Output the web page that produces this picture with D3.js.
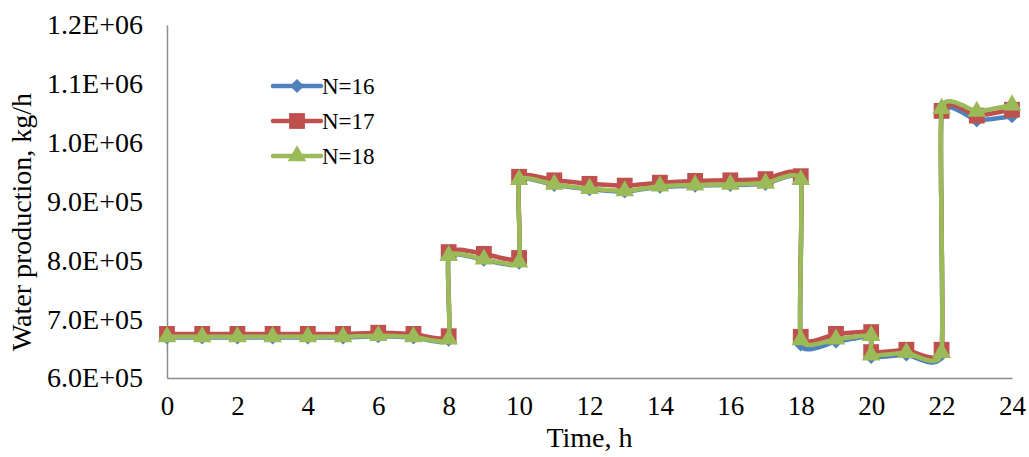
<!DOCTYPE html>
<html>
<head>
<meta charset="utf-8">
<script src="https://cdn.jsdelivr.net/npm/d3@7"></script>
<style>
  body { margin: 0; background: #fff; }
  svg { display: block; }
  text { font-family: "Liberation Serif", "Times New Roman", serif; fill: #000; }
</style>
</head>
<body>
<svg id="chart" width="1029" height="457"></svg>
<script>
// ---- data ----
const hours = [0,1,2,3,4,5,6,7,8,8,9,10,10,11,12,13,14,15,16,17,18,18,19,20,20,21,22,22,23,24];
const n16 = [669000,669000,669000,669000,669000,669000,671000,669000,665000,
             807000,801000,796000,
             936000,928000,921000,917000,925000,927000,928000,930000,936000,
             657000,662000,670000,
             636000,640000,640000,
             1050000,1038000,1045000];
const n17 = [675000,675000,675000,675000,675000,675000,677000,675000,671000,
             814000,811000,804000,
             942000,936000,930000,927000,932000,935000,936000,938000,943000,
             670000,675000,678000,
             644000,648000,648000,
             1054000,1046000,1056000];
const n18 = [670000,670000,670000,670000,670000,670000,672000,670000,666000,
             808000,802000,797000,
             937000,929000,922000,918000,926000,928000,929000,931000,937000,
             665000,666000,672000,
             639000,643000,643000,
             1058000,1053000,1064000];
const seriesNames = ["N=16","N=17","N=18"];
const xTicks = [0,2,4,6,8,10,12,14,16,18,20,22,24];
const yTicks = [600000,700000,800000,900000,1000000,1100000,1200000];
const yTickLabels = ["6.0E+05","7.0E+05","8.0E+05","9.0E+05","1.0E+06","1.1E+06","1.2E+06"];

// ---- layout ----
const W = 1029, H = 457;
const m = {left: 167, top: 25, right: 17, bottom: 79};
const svg = d3.select("#chart");
const x = d3.scaleLinear().domain([0,24]).range([m.left, W - m.right]);
const y = d3.scaleLinear().domain([600000,1200000]).range([H - m.bottom, m.top]);

const colors = ["#4F81BD","#C0504D","#9BBB59"];
const symbols = [
  {type: d3.symbolSquare, size: 100, rotate: 45},
  {type: d3.symbolSquare, size: 250, rotate: 0},
  {type: d3.symbolTriangle, size: 150, rotate: 0}
];

// axes
const yAxis = d3.axisLeft(y).tickValues(yTicks).tickSize(0).tickPadding(24)
  .tickFormat((d,i) => yTickLabels[i]);
const gy = svg.append("g").attr("transform", `translate(${m.left},0)`).call(yAxis);
gy.select(".domain").attr("stroke", "#8c8c8c").attr("stroke-width", 1.5);
gy.selectAll("text").attr("font-size", 28).style("font-family", '"Liberation Serif", serif');

const xAxis = d3.axisBottom(x).tickValues(xTicks).tickSize(0).tickPadding(18)
  .tickFormat(d3.format("d"));
const gx = svg.append("g").attr("transform", `translate(0,${H - m.bottom})`).call(xAxis);
gx.select(".domain").attr("stroke", "#8c8c8c").attr("stroke-width", 1.5);
gx.selectAll("text").attr("font-size", 27).style("font-family", '"Liberation Serif", serif');

// axis titles
svg.append("text").attr("x", (m.left + W - m.right) / 2).attr("y", 447)
  .attr("text-anchor", "middle").attr("font-size", 28).text("Time, h");
svg.append("text").attr("transform", "translate(31,222) rotate(-90)")
  .attr("text-anchor", "middle").attr("font-size", 28).text("Water production, kg/h");

// series
const data = [n16, n17, n18];
const line = d3.line().x(d => x(d[0])).y(d => y(d[1])).curve(d3.curveCardinal.tension(0.55));

data.forEach((vals, si) => {
  const pts = hours.map((h, i) => [h, vals[i]]);
  const g = svg.append("g");
  g.append("path").datum(pts).attr("d", line)
    .attr("fill", "none").attr("stroke", colors[si]).attr("stroke-width", 4.5)
    .attr("stroke-linejoin", "round");
  const sym = d3.symbol().type(symbols[si].type).size(symbols[si].size);
  g.selectAll("path.mk").data(pts).enter().append("path").attr("class", "mk")
    .attr("d", sym)
    .attr("transform", d => `translate(${x(d[0])},${y(d[1])}) rotate(${symbols[si].rotate})`)
    .attr("fill", colors[si]);
});

// legend
const legY = [86, 121, 156];
seriesNames.forEach((name, si) => {
  const g = svg.append("g");
  g.append("line").attr("x1", 273).attr("x2", 321).attr("y1", legY[si]).attr("y2", legY[si])
    .attr("stroke", colors[si]).attr("stroke-width", 4.5).attr("stroke-linecap", "round");
  const sym = d3.symbol().type(symbols[si].type).size(symbols[si].size);
  g.append("path").attr("d", sym)
    .attr("transform", `translate(297,${legY[si]}) rotate(${symbols[si].rotate})`)
    .attr("fill", colors[si]);
  g.append("text").attr("x", 322).attr("y", legY[si]).attr("dy", "0.35em")
    .attr("font-size", 23).text(name);
});
</script>
</body>
</html>
